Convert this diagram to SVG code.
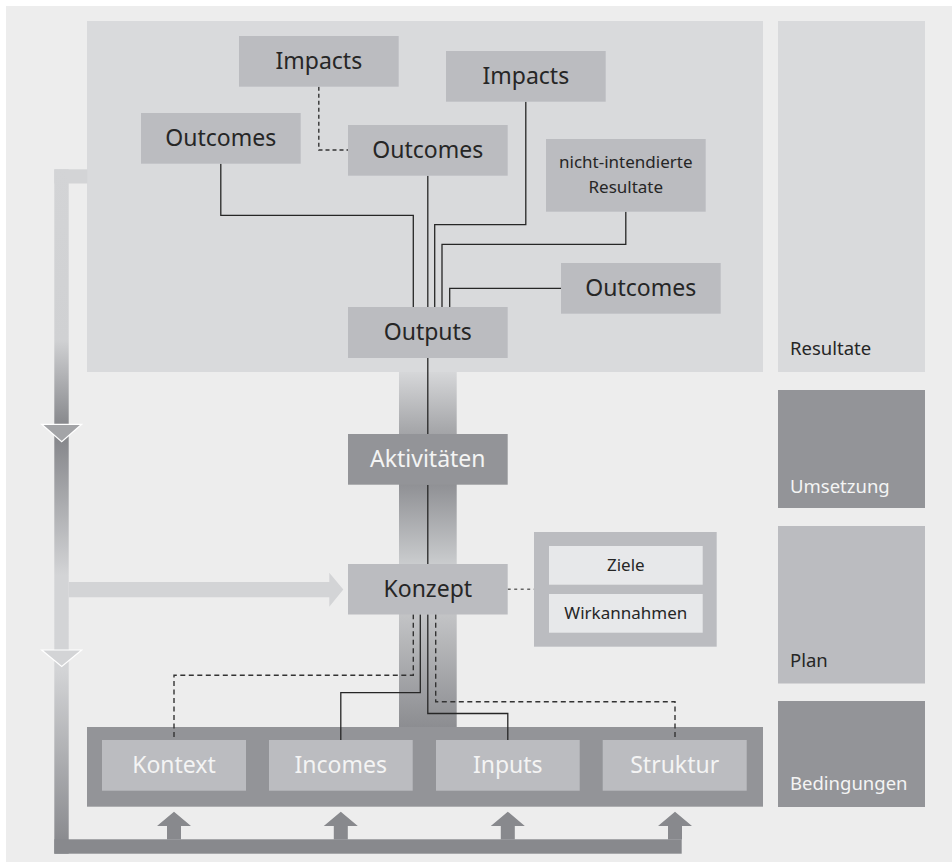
<svg xmlns="http://www.w3.org/2000/svg" width="952" height="863" viewBox="0 0 952 863">
<defs>
<style>
.t{font-family:"Noto Sans","Open Sans",sans-serif;text-anchor:middle}
.big{font-size:23px}
.small{font-size:17px}
.side{font-family:"Noto Sans","Open Sans",sans-serif;font-size:18.5px}
.dk{fill:#262626}
.wt{fill:#f4f4f4}
.nl{fill:#bbbcc0}
.nd{fill:#939498}
.ln{fill:none;stroke:#262626;stroke-width:1.3}
.dl{fill:none;stroke:#333;stroke-width:1.4;stroke-dasharray:5 3.5}
.dt{fill:none;stroke:#666;stroke-width:1.5;stroke-dasharray:3 3.5}
</style>
<linearGradient id="gLeft" gradientUnits="userSpaceOnUse" x1="0" y1="169" x2="0" y2="854">
<stop offset="0" stop-color="#d3d4d6"/>
<stop offset="0.25" stop-color="#d0d1d3"/>
<stop offset="0.372" stop-color="#88898d"/>
<stop offset="0.399" stop-color="#88898d"/>
<stop offset="0.593" stop-color="#d3d4d6"/>
<stop offset="0.731" stop-color="#d3d4d6"/>
<stop offset="0.987" stop-color="#88898d"/>
<stop offset="1" stop-color="#88898d"/>
</linearGradient>
<linearGradient id="gMid" gradientUnits="userSpaceOnUse" x1="0" y1="358" x2="0" y2="727">
<stop offset="0.038" stop-color="#d6d7d9"/>
<stop offset="0.206" stop-color="#a3a4a7"/>
<stop offset="0.344" stop-color="#909195"/>
<stop offset="0.558" stop-color="#caccce"/>
<stop offset="0.694" stop-color="#c3c4c6"/>
<stop offset="1" stop-color="#8c8d91"/>
</linearGradient>
</defs>
<rect x="6" y="6" width="946" height="856" fill="#ededed"/>

<g id="panel-resultate">
<rect x="87" y="21" width="676" height="351" fill="#d9dadc"/>
</g>

<g id="side-labels">
<g id="side-resultate"><rect x="778" y="21" width="147" height="351" fill="#d9dadc"/><text x="790" y="355" class="side dk">Resultate</text></g>
<g id="side-umsetzung"><rect x="778" y="390" width="147" height="118" class="nd"/><text x="790" y="492.5" class="side wt">Umsetzung</text></g>
<g id="side-plan"><rect x="778" y="526" width="147" height="157.5" class="nl"/><text x="790" y="666.5" class="side dk">Plan</text></g>
<g id="side-bedingungen"><rect x="778" y="701" width="147" height="106" class="nd"/><text x="790" y="790" class="side wt">Bedingungen</text></g>
</g>

<g id="feedback-loop">
<rect x="54.3" y="169.3" width="33" height="14.2" fill="#d3d4d6"/>
<rect x="54.3" y="169.3" width="14.4" height="684.4" fill="url(#gLeft)"/>
<rect x="54.3" y="839.3" width="627.4" height="14.4" fill="#88898d"/>
<polygon points="41.7,424.3 81.7,424.3 61.7,441.7" fill="#a3a4a7" stroke="#ffffff" stroke-width="1.2"/>
<polygon points="41.7,650 81.7,650 61.7,666.5" fill="#d3d4d6" stroke="#ffffff" stroke-width="1.2"/>
<polygon points="68.7,582 329.3,582 329.3,572.7 343.3,589.6 329.3,606.7 329.3,597.3 68.7,597.3" fill="#d3d4d6"/>
<polygon points="167,839.5 167,826 157,826 174,811.7 191,826 181,826 181,839.5" fill="#88898d"/>
<polygon points="333.8,839.5 333.8,826 323.8,826 340.8,811.7 357.8,826 347.8,826 347.8,839.5" fill="#88898d"/>
<polygon points="500.8,839.5 500.8,826 490.8,826 507.8,811.7 524.8,826 514.8,826 514.8,839.5" fill="#88898d"/>
<polygon points="668,839.5 668,826 658,826 675,811.7 692,826 682,826 682,839.5" fill="#88898d"/>
</g>

<g id="center-bar">
<rect x="399" y="372" width="57.7" height="355" fill="url(#gMid)"/>
</g>

<g id="bedingungen-bar">
<rect x="87" y="727" width="676" height="79.7" class="nd"/>
</g>

<g id="connectors">
<path class="ln" d="M413.3 307 V215.3 H220.8 V163.7"/>
<path class="ln" d="M427.8 307 V175.7"/>
<path class="ln" d="M434.7 307 V224.7 H525.8 V101.7"/>
<path class="ln" d="M442 307 V244.3 H625.8 V211.7"/>
<path class="ln" d="M449.7 307 V288.3 H561"/>
<path class="dl" d="M318.8 86.7 V150 H348" style="stroke-dasharray:4 3"/>
<path class="ln" d="M427.8 358 V434"/>
<path class="ln" d="M427.8 485 V564"/>
<path class="dt" d="M507.7 589.3 H534"/>
<path class="dl" d="M413.3 614.3 V675.3 H174 V740"/>
<path class="ln" d="M420.3 614.3 V692.7 H340.8 V740"/>
<path class="ln" d="M427.8 614.3 V713.5 H507.8 V740"/>
<path class="dl" d="M435.7 614.3 V701.7 H675 V740"/>
</g>

<g id="node-impacts-1"><rect x="239" y="36" width="159.7" height="50.7" class="nl"/><text x="318.8" y="69.3" class="t big dk">Impacts</text></g>
<g id="node-impacts-2"><rect x="446" y="51" width="159.7" height="50.7" class="nl"/><text x="525.8" y="84.3" class="t big dk">Impacts</text></g>
<g id="node-outcomes-1"><rect x="141" y="113" width="159.7" height="50.7" class="nl"/><text x="220.8" y="146.3" class="t big dk">Outcomes</text></g>
<g id="node-outcomes-2"><rect x="348" y="125" width="159.7" height="50.7" class="nl"/><text x="427.8" y="158.3" class="t big dk">Outcomes</text></g>
<g id="node-nicht-intendierte"><rect x="546" y="139" width="159.7" height="72.7" class="nl"/><text x="625.8" y="168.3" class="t small dk">nicht-intendierte</text><text x="625.8" y="193.3" class="t small dk">Resultate</text></g>
<g id="node-outcomes-3"><rect x="561" y="263" width="159.7" height="50.7" class="nl"/><text x="640.8" y="296.3" class="t big dk">Outcomes</text></g>
<g id="node-outputs"><rect x="348" y="307" width="159.7" height="51" class="nl"/><text x="427.8" y="340.3" class="t big dk">Outputs</text></g>
<g id="node-aktivitaeten"><rect x="348" y="434" width="159.7" height="50.7" class="nd"/><text x="427.8" y="467.2" class="t big wt">Aktivitäten</text></g>
<g id="node-konzept"><rect x="348" y="564" width="159.7" height="50.5" class="nl"/><text x="427.8" y="597.2" class="t big dk">Konzept</text></g>
<g id="node-ziele-group">
<rect x="534" y="532" width="182.7" height="114.7" class="nl"/>
<rect x="549" y="546" width="153.7" height="38.7" fill="#e7e8ea"/>
<text x="625.8" y="571" class="t small dk">Ziele</text>
<rect x="549" y="594" width="153.7" height="38.7" fill="#e7e8ea"/>
<text x="625.8" y="619" class="t small dk">Wirkannahmen</text>
</g>
<g id="node-kontext"><rect x="102" y="740" width="144" height="50.7" class="nl"/><text x="174" y="773.3" class="t big wt">Kontext</text></g>
<g id="node-incomes"><rect x="269" y="740" width="143.7" height="50.7" class="nl"/><text x="340.8" y="773.3" class="t big wt">Incomes</text></g>
<g id="node-inputs"><rect x="436" y="740" width="143.7" height="50.7" class="nl"/><text x="507.8" y="773.3" class="t big wt">Inputs</text></g>
<g id="node-struktur"><rect x="602.7" y="740" width="144" height="50.7" class="nl"/><text x="674.7" y="773.3" class="t big wt">Struktur</text></g>
</svg>
